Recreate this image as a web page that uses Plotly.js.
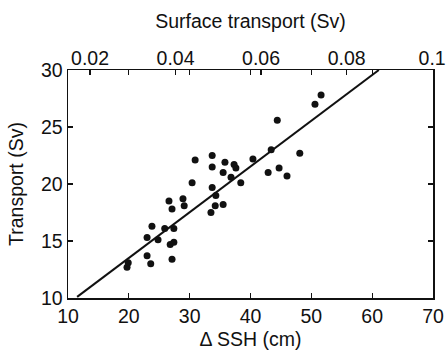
<!DOCTYPE html>
<html>
<head>
<meta charset="utf-8">
<script src="https://cdn.plot.ly/plotly-3.0.1.min.js"></script>
<style>html,body{margin:0;padding:0;background:#fff;}#chart{width:446px;height:356px;}</style>
</head>
<body>
<div id="chart"></div>
<script>
// Observed data: delta SSH (cm) vs transport (Sv)
var ssh = [19.7, 19.9, 23.0, 23.6, 23.0, 23.8, 24.8, 25.9, 26.8, 27.4,
           27.1, 27.4, 26.6, 27.1, 28.9, 29.1, 30.4, 30.9, 33.5, 34.2,
           35.5, 33.7, 34.3, 33.7, 33.7, 35.8, 37.3, 37.6, 35.5, 36.8,
           38.4, 40.4, 42.9, 44.7, 46.0, 43.4, 48.1, 44.4, 50.6, 51.6];
var transport = [12.7, 13.1, 13.7, 13.0, 15.3, 16.3, 15.1, 16.1, 14.7, 14.9,
                 13.4, 16.1, 18.5, 17.8, 18.7, 18.1, 20.1, 22.1, 17.5, 18.1,
                 18.2, 19.7, 19.0, 22.5, 21.5, 21.9, 21.7, 21.4, 21.0, 20.6,
                 20.1, 22.2, 21.0, 21.4, 20.7, 23.0, 22.7, 25.6, 27.0, 27.8];
// Fitted regression line end points
var fitSSH = [11.5, 61.1];
var fitTransport = [10.1, 30.0];
// Tick labels
var xTicks = [10, 20, 30, 40, 50, 60, 70];
var yTicks = [10, 15, 20, 25, 30];
var topTicks = [0.02, 0.04, 0.06, 0.08, 0.1];
var topTickText = ['0.02', '0.04', '0.06', '0.08', '0.1'];
var topRange = [0.01485, 0.1002];

var font = 'Liberation Sans, Arial, sans-serif';
var fs = 19.5;

var traces = [
  {x: fitSSH, y: fitTransport, mode: 'lines', type: 'scatter',
   line: {color: '#111', width: 2}, hoverinfo: 'skip', showlegend: false},
  {x: ssh, y: transport, mode: 'markers', type: 'scatter',
   marker: {color: '#111', size: 7}, showlegend: false},
  // empty trace so the top (surface transport) axis is drawn
  {x: [], y: [], xaxis: 'x2', yaxis: 'y', mode: 'markers', type: 'scatter',
   showlegend: false, hoverinfo: 'skip'}
];

var layout = {
  width: 446, height: 356,
  margin: {l: 68, r: 13, t: 70, b: 58},
  paper_bgcolor: '#fff', plot_bgcolor: '#fff',
  font: {family: font, size: fs, color: '#111'},
  showlegend: false,
  xaxis: {
    range: [10, 70], tickvals: xTicks, ticks: 'inside', ticklen: 5,
    tickwidth: 1.2, tickcolor: '#111', showline: true, linecolor: '#111',
    linewidth: 1.5, mirror: 'ticks', showgrid: false, zeroline: false,
    tickfont: {size: fs},
    title: {text: '\u0394 SSH (cm)', font: {size: fs}, standoff: 6}
  },
  xaxis2: {
    overlaying: 'x', side: 'top', anchor: 'y',
    range: topRange, tickvals: topTicks, ticktext: topTickText,
    ticks: 'inside', ticklen: 5, tickwidth: 1.2, tickcolor: '#111',
    showline: false, showgrid: false, zeroline: false,
    tickfont: {size: fs},
    title: {text: 'Surface transport (Sv)', font: {size: fs}, standoff: 13}
  },
  yaxis: {
    range: [10, 30], tickvals: yTicks, ticks: 'inside', ticklen: 5,
    tickwidth: 1.2, tickcolor: '#111', showline: true, linecolor: '#111',
    linewidth: 1.5, mirror: 'ticks', showgrid: false, zeroline: false,
    tickfont: {size: fs},
    title: {text: 'Transport (Sv)', font: {size: fs}, standoff: 12}
  }
};

Plotly.newPlot('chart', traces, layout, {displayModeBar: false, staticPlot: true});
</script>
</body>
</html>
